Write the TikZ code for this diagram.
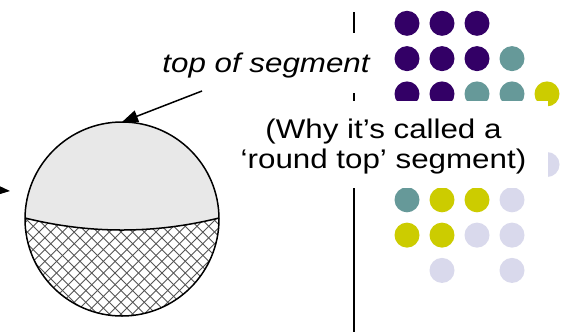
\documentclass[tikz,border=0pt]{standalone}
\usepackage{fontspec}
\usetikzlibrary{arrows.meta}
\newfontfamily\labelfont[FakeStretch=1.16]{Liberation Sans}

\definecolor{dotpurple}{HTML}{330066}
\definecolor{dotteal}{HTML}{669999}
\definecolor{dotyellow}{HTML}{CCCC00}
\definecolor{dotlilac}{HTML}{D9D9EC}
\definecolor{capfill}{HTML}{E8E8E8}
\definecolor{hatchgray}{HTML}{555555}

\tikzset{
  outline/.style={line width=1.5bp, black},
  pointer/.style={line width=1.5bp, black, -{Triangle[length=16bp, width=12bp]}},
  divider/.style={line width=1.3bp, black},
  hatchline/.style={line width=0.9bp, hatchgray},
  labeltext/.style={font=\labelfont\fontsize{27bp}{30bp}\selectfont, inner sep=0pt},
  coverbox/.style={fill=white, draw=none, inner sep=0pt},
  dot/.style={circle, inner sep=0pt, minimum size=25bp, draw=none},
}

\begin{document}
\begin{tikzpicture}[x=1bp, y=-1bp]
  \clip (0,0) rectangle (562,333);
  \fill[white] (0,0) rectangle (562,333);

  % vertical divider
  \coordinate (divtop) at (354,12);
  \coordinate (divbot) at (354,332);
  \draw[divider] (divtop) -- (divbot);

  % dot grid: columns 407..547, rows 23..270 (step 35)
  \foreach \c/\r/\col [count=\i] in {
      1/1/dotpurple, 2/1/dotpurple, 3/1/dotpurple,
      1/2/dotpurple, 2/2/dotpurple, 3/2/dotpurple, 4/2/dotteal,
      1/3/dotpurple, 2/3/dotpurple, 3/3/dotteal, 4/3/dotteal, 5/3/dotyellow,
      5/5/dotlilac,
      1/6/dotteal, 2/6/dotyellow, 3/6/dotyellow, 4/6/dotlilac,
      1/7/dotyellow, 2/7/dotyellow, 3/7/dotlilac, 4/7/dotlilac,
      2/8/dotlilac, 4/8/dotlilac} {
    \node[dot, fill=\col] (dot\i) at ({372+35*\c},{-12+35.3*\r}) {};
  }

  % round-top segment
  \coordinate (cc) at (122,219);
  \coordinate (chordL) at (25,218);
  \coordinate (chordR) at (219,218);
  \coordinate (ctop) at (122,122);

  % upper cap (light grey)
  \fill[capfill] (chordL) .. controls (89.7,234) and (154.3,234) .. (chordR)
    arc[start angle=-0.6, end angle=-179.4, radius=97] -- cycle;

  % lower part (cross-hatched)
  \begin{scope}
    \clip (chordL) .. controls (89.7,234) and (154.3,234) .. (chordR)
      arc[start angle=-0.6, end angle=180.6, radius=97] -- cycle;
    \foreach \k in {0,...,28} {
      \pgfmathsetmacro{\ca}{-310+11.7*\k}
      \pgfmathsetmacro{\cb}{236+11.7*\k}
      \draw[hatchline] ({\ca+200},200) -- ({\ca+330},330);
      \draw[hatchline] ({\cb-200},200) -- ({\cb-330},330);
    }
  \end{scope}

  \draw[outline] (cc) circle[radius=97];
  \draw[outline] (chordL) .. controls (89.7,234) and (154.3,234) .. (chordR);

  % labels with white backing
  \node[labeltext, coverbox, anchor=base, minimum width=228bp,
        text height=39bp, text depth=21bp] (toplabel) at (266,72)
        {\itshape top of segment};

  \node[coverbox, minimum width=329bp, minimum height=87bp] (whybox) at (383.5,144.5) {};
  \node[labeltext, anchor=base] (why1) at (383.5,138) {(Why it’s called a};
  \node[labeltext, anchor=base] (why2) at (383.5,168) {‘round top’ segment)};

  % pointers
  \coordinate (topstart) at (202,91);
  \draw[pointer] (topstart) -- (ctop);
  \coordinate (leftstart) at (-60,186);
  \coordinate (lefttip) at (10,191);
  \draw[pointer] (leftstart) -- (lefttip);
\end{tikzpicture}
\end{document}
